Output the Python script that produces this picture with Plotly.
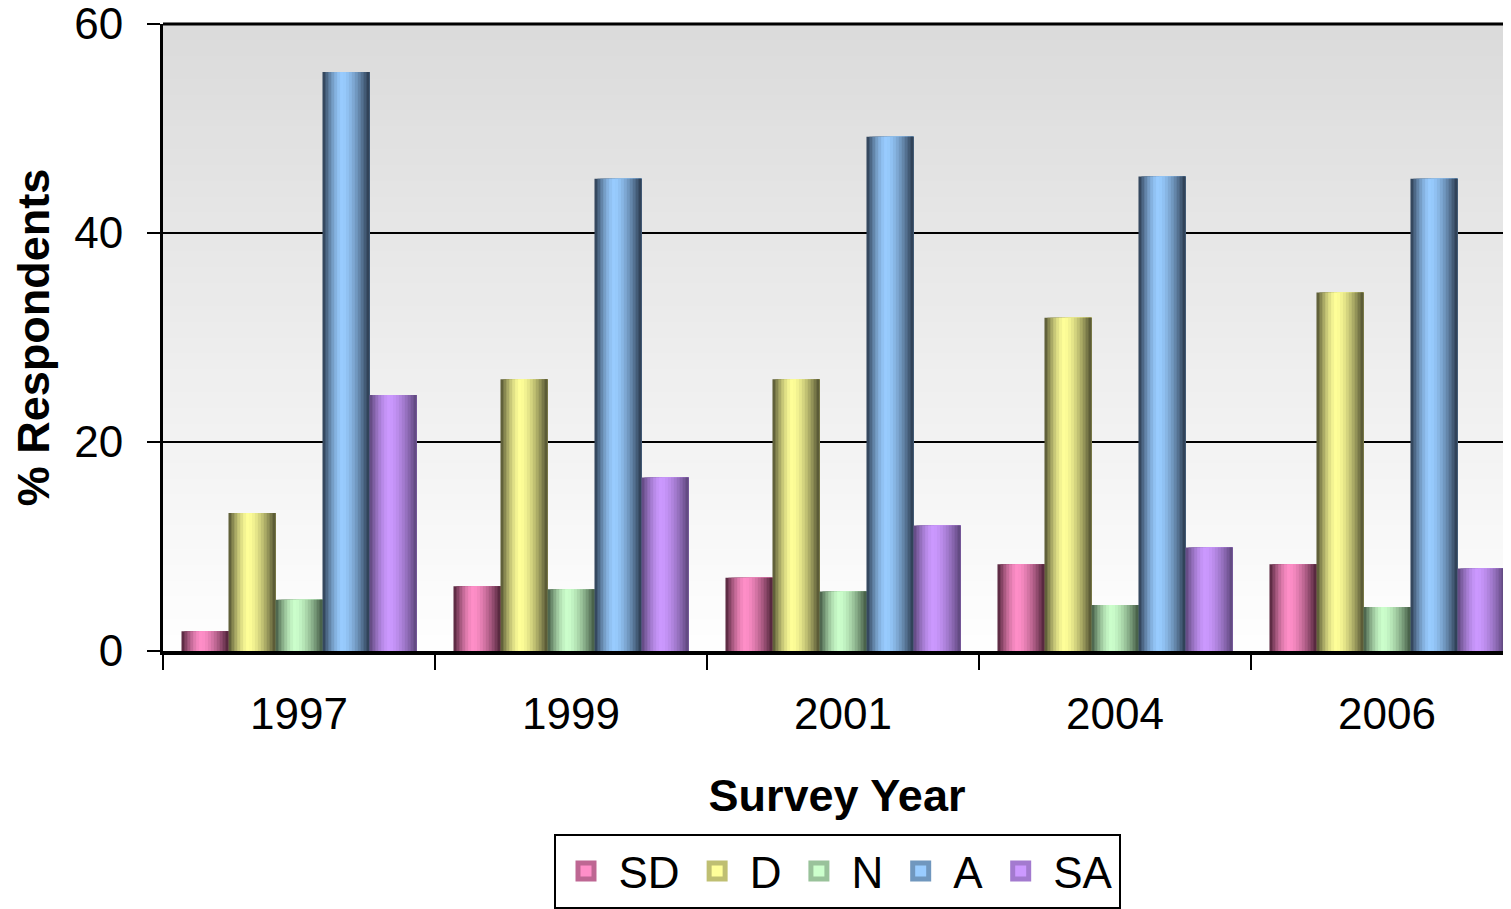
import plotly.graph_objects as go

# Dados
years = ["1997", "1999", "2001", "2004", "2006"]
sd = [1.9, 6.2, 7.0, 8.3, 8.3]
d = [13.2, 26.0, 26.0, 31.9, 34.3]
n = [4.9, 5.9, 5.7, 4.4, 4.2]
a = [55.4, 45.2, 49.2, 45.4, 45.2]
sa = [24.5, 16.6, 12.0, 9.9, 7.9]

series = [
    ("SD", sd, (255, 143, 200), (74, 32, 52)),
    ("D", d, (255, 255, 153), (77, 77, 46)),
    ("N", n, (204, 255, 204), (63, 85, 64)),
    ("A", a, (153, 204, 255), (40, 55, 74)),
    ("SA", sa, (204, 153, 255), (90, 68, 120)),
]

FONT = "Liberation Sans, Arial, sans-serif"
bar_w = 0.1728
n_strips = 16
strip_w = bar_w / n_strips
peak = 0.42


def mix(light, dark, t):
    # sombreamento cilíndrico: escuro nas bordas, claro perto do centro
    s = (peak - t) / peak if t < peak else (t - peak) / (1 - peak)
    f = 1 - s ** 1.6
    r, g, b = (int(dk + (lt - dk) * f) for lt, dk in zip(light, dark))
    return f"rgb({r},{g},{b})"


fig = go.Figure()

for i, (name, vals, light, dark) in enumerate(series):
    start = -2.5 * bar_w + i * bar_w
    for k in range(n_strips):
        t = (k + 0.5) / n_strips
        fig.add_trace(go.Bar(
            x=years, y=vals,
            name=name,
            legendgroup=name,
            showlegend=False,
            offset=start + k * strip_w,
            width=bar_w - k * strip_w,
            marker=dict(color=mix(light, dark, t), line=dict(width=0)),
            hovertemplate=f"{name}<br>%{{x}}: %{{y}}%<extra></extra>",
        ))

# entradas da legenda (quadrados maiores que o símbolo padrão das barras)
for name, vals, light, dark in series:
    fig.add_trace(go.Scatter(
        x=[None], y=[None], mode="markers",
        name=name, legendgroup=name,
        marker=dict(symbol="square", size=16, color=mix(light, dark, 0.42),
                    line=dict(width=5, color=mix(light, dark, 0.2))),
    ))

# fundo em degradê (cinza no topo, branco embaixo)
n_bands = 80
shapes = []
for j in range(n_bands):
    y0 = j / n_bands
    y1 = (j + 1) / n_bands
    c = int(255 - 36 * (y0 + y1) / 2)
    shapes.append(dict(
        type="rect", xref="paper", yref="paper",
        x0=0, x1=1, y0=y0, y1=y1 + 0.002,
        fillcolor=f"rgb({c},{c},{c})", line=dict(width=0), layer="below",
    ))
# linha de grade do topo (60), que o plotly corta na borda
shapes.append(dict(
    type="line", xref="paper", yref="paper", x0=0, x1=1, y0=1, y1=1,
    line=dict(color="black", width=3), layer="above",
))

# a página tem 8px de margem no body: figura 8px menor para caber na janela
fig.update_layout(
    width=1503, height=901,
    barmode="overlay",
    shapes=shapes,
    margin=dict(l=155, r=0, t=16, b=251),
    paper_bgcolor="white",
    plot_bgcolor="white",
    font=dict(family=FONT, size=44, color="black"),
    xaxis=dict(
        type="category",
        range=[-0.5, 4.456],
        automargin=False,
        showline=True, linecolor="black", linewidth=4,
        ticks="outside", tickson="boundaries", ticklen=15,
        tickwidth=2, tickcolor="black",
        ticklabelstandoff=21,
        showgrid=False,
        tickfont=dict(size=44),
        title=dict(text="<b>Survey Year</b>", font=dict(size=45), standoff=44),
    ),
    yaxis=dict(
        range=[0, 60], dtick=20,
        automargin=False,
        showline=True, linecolor="black", linewidth=3,
        ticks="outside", ticklen=13, tickwidth=2, tickcolor="black",
        ticklabelstandoff=15,
        ticklabeloverflow="allow",
        showgrid=True, gridcolor="black", gridwidth=2,
        zeroline=False,
        tickfont=dict(size=44),
        title=dict(text="<b>% Respondents</b>", font=dict(size=45), standoff=18),
    ),
    legend=dict(
        orientation="h",
        x=0.5, xanchor="center",
        y=-0.292, yanchor="top",
        bordercolor="black", borderwidth=2,
        bgcolor="white",
        font=dict(size=44),
        itemsizing="trace",
        itemwidth=55,
    ),
)

fig.write_html("out.html")
